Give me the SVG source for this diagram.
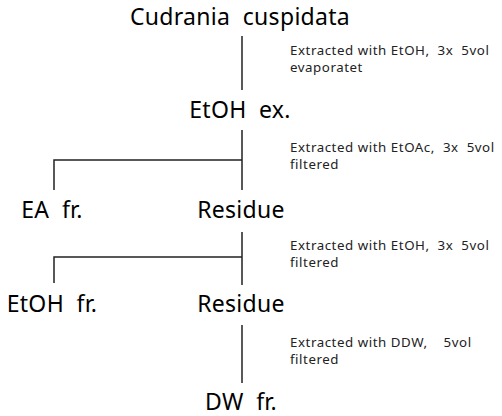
<svg xmlns="http://www.w3.org/2000/svg" width="502" height="416" viewBox="0 0 502 416">
<style>
text{white-space:pre}
.big{font-family:"Noto Sans","Liberation Sans",sans-serif;font-size:23px;fill:#000;text-anchor:middle;letter-spacing:0.3px}
.sm{font-family:"Noto Sans","Liberation Sans",sans-serif;font-size:13.3px;fill:#222;letter-spacing:0.55px}
.ln{stroke:#222;stroke-width:1.5;fill:none}
</style>
<rect width="502" height="416" fill="#fff"/>
<g id="connectors">
<path class="ln" d="M242 36V90"/>
<path class="ln" d="M242 130V190M242 160H54V190"/>
<path class="ln" d="M242 232V285M242 257H54V283"/>
<path class="ln" d="M242 325V383"/>
</g>
<g id="n-cudrania"><text class="big" x="240" y="25" xml:space="preserve">Cudrania  cuspidata</text></g>
<g id="n-etoh-ex"><text class="big" x="240" y="118" xml:space="preserve">EtOH  ex.</text></g>
<g id="n-ea"><text class="big" x="52" y="218" xml:space="preserve">EA  fr.</text></g>
<g id="n-residue1"><text class="big" x="241" y="218">Residue</text></g>
<g id="n-etoh-fr"><text class="big" x="52" y="312" xml:space="preserve">EtOH  fr.</text></g>
<g id="n-residue2"><text class="big" x="241" y="312">Residue</text></g>
<g id="n-dw"><text class="big" x="241" y="410" xml:space="preserve">DW  fr.</text></g>
<g id="labels">
<text class="sm" x="290" y="55" xml:space="preserve">Extracted with EtOH,  3x  5vol</text>
<text class="sm" x="290" y="72">evaporatet</text>
<text class="sm" x="290" y="152" xml:space="preserve">Extracted with EtOAc,  3x  5vol</text>
<text class="sm" x="290" y="169">filtered</text>
<text class="sm" x="290" y="250" xml:space="preserve">Extracted with EtOH,  3x  5vol</text>
<text class="sm" x="290" y="267">filtered</text>
<text class="sm" x="290" y="347" xml:space="preserve">Extracted with DDW,    5vol</text>
<text class="sm" x="290" y="364">filtered</text>
</g>
</svg>
